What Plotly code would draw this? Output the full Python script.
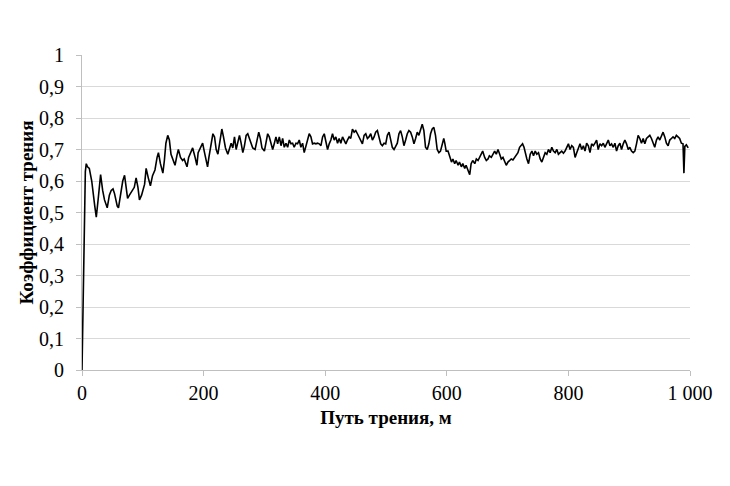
import plotly.graph_objects as go

# Friction path, m  /  friction coefficient
dist_a = [0, 1, 2.5, 4, 5.5, 7, 9, 12, 16, 21, 23.5, 27, 30.6, 34, 37, 41.5, 45, 48, 51, 53.5,
          58, 60, 63, 67, 70, 72.7, 75, 78, 82, 86, 89, 92, 94.5, 98, 103, 105.5, 109, 112.5,
          116, 120, 123.5, 125.7, 129, 133, 135.5, 138, 141, 143.7, 146.4, 149, 153, 156,
          158.5, 162, 165.5, 168, 172.7, 175.4, 179, 182, 186, 189, 191, 194.5, 198.4, 201, 204.3]
cof_a = [0, 0.13, 0.2, 0.45, 0.63, 0.655, 0.645, 0.64, 0.6, 0.52, 0.485, 0.55, 0.62, 0.57, 0.54,
         0.515, 0.555, 0.57, 0.575, 0.56, 0.52, 0.515, 0.55, 0.6, 0.618, 0.57, 0.545, 0.555, 0.57,
         0.58, 0.61, 0.58, 0.54, 0.555, 0.59, 0.64, 0.61, 0.585, 0.617, 0.635, 0.675, 0.69, 0.655,
         0.625, 0.665, 0.72, 0.745, 0.73, 0.685, 0.67, 0.65, 0.68, 0.7, 0.675, 0.665, 0.67, 0.645,
         0.675, 0.695, 0.705, 0.675, 0.65, 0.69, 0.705, 0.72, 0.695, 0.665]

dist_b = [206.5, 208.7, 211.4, 215.3, 218, 220.7, 223.5, 226, 230, 232.7, 236, 239.8, 242.6,
          245.3, 248, 250.8, 253.5, 256.2, 259, 261.7, 264.5, 267, 270, 272.6, 275.4, 278, 280.8,
          284.7, 287.4, 290.7, 293.4, 296, 300, 302.7, 305.4, 308, 310.9, 313.6, 316.4, 319, 321.8,
          324.5, 327.3, 330, 332.7, 335.5, 338.2, 341, 343.7, 346.4, 349, 351.9, 354.6, 357.3, 360,
          362.8, 365.5, 368.3, 371, 373.7, 376.5, 379.2, 382, 384.7, 387.4]
cof_b = [0.645, 0.675, 0.705, 0.75, 0.74, 0.70, 0.685, 0.72, 0.765, 0.74, 0.705, 0.685, 0.705,
         0.72, 0.705, 0.74, 0.70, 0.72, 0.745, 0.72, 0.69, 0.71, 0.745, 0.75, 0.735, 0.72, 0.705,
         0.70, 0.73, 0.755, 0.735, 0.705, 0.695, 0.72, 0.75, 0.74, 0.718, 0.70, 0.72, 0.74, 0.718,
         0.74, 0.712, 0.735, 0.707, 0.72, 0.707, 0.73, 0.718, 0.72, 0.707, 0.72, 0.718, 0.73, 0.707,
         0.72, 0.69, 0.712, 0.735, 0.75, 0.74, 0.718, 0.72, 0.718, 0.72]

dist_c = [390.2, 393, 395.7, 398.4, 401, 403.9, 406.6, 409.3, 412, 414.8, 417.5, 420.3, 423,
          425.7, 428.5, 431.2, 434, 436.6, 439.4, 442, 444.8, 447.6, 450.3, 453, 455.8, 458.5,
          461.2, 464, 466.7, 469.4, 472, 474.9, 477.6, 480.4, 483, 485.8, 488.6, 491.3, 494, 496.8,
          499.5, 502.2, 505, 507.7, 510.4, 513.2, 515.9, 518.6, 521.3, 524, 526.8, 529.5, 532.3,
          535, 537.7, 540.5, 543.2, 546, 548.7, 551.4, 554.1, 556.9, 559.6, 562.3, 565, 567.8,
          570.5, 573.3, 576, 578.7, 581.4, 584.2]
cof_c = [0.718, 0.712, 0.74, 0.75, 0.73, 0.70, 0.718, 0.73, 0.75, 0.73, 0.74, 0.72, 0.735, 0.72,
         0.74, 0.73, 0.718, 0.73, 0.74, 0.735, 0.765, 0.755, 0.76, 0.75, 0.74, 0.73, 0.718, 0.745,
         0.75, 0.735, 0.74, 0.75, 0.73, 0.74, 0.755, 0.76, 0.735, 0.718, 0.712, 0.72, 0.718, 0.745,
         0.755, 0.73, 0.707, 0.70, 0.712, 0.72, 0.75, 0.76, 0.74, 0.712, 0.73, 0.75, 0.76, 0.755,
         0.74, 0.718, 0.735, 0.755, 0.745, 0.765, 0.78, 0.76, 0.707, 0.70, 0.718, 0.75, 0.765,
         0.77, 0.745, 0.70]

dist_d = [587, 589.6, 592.4, 595, 596.7, 599, 602, 604.4, 607.7, 610, 613, 615.3, 618.6, 620.8,
          624, 626.3, 629.5, 631.7, 635, 637.7, 640, 642.6, 646, 648.6, 651.4, 654, 656.8, 659,
          662.3, 665, 667.8, 670, 673.2, 676, 678.7, 681.4, 684.2, 687, 689.6, 692.4, 695, 697.8,
          700.6, 703.3, 706, 708.8, 711.5, 714.2, 717, 719.7, 722.4, 724.6, 727, 729, 731.7, 734.4,
          737.2, 740, 742.6, 745.4, 748, 750.8, 753.6, 756.3, 759, 761.8, 764.5, 767.2, 770, 772.7,
          775.4, 778.2, 781]
cof_d = [0.69, 0.695, 0.718, 0.735, 0.72, 0.695, 0.695, 0.68, 0.66, 0.67, 0.655, 0.665, 0.65, 0.66,
         0.645, 0.655, 0.64, 0.65, 0.635, 0.62, 0.655, 0.665, 0.655, 0.67, 0.665, 0.675, 0.69,
         0.695, 0.675, 0.665, 0.67, 0.68, 0.675, 0.685, 0.695, 0.685, 0.70, 0.685, 0.67, 0.675,
         0.665, 0.65, 0.66, 0.665, 0.67, 0.667, 0.675, 0.685, 0.69, 0.707, 0.712, 0.718, 0.707,
         0.69, 0.67, 0.655, 0.685, 0.695, 0.68, 0.695, 0.685, 0.69, 0.67, 0.66, 0.675, 0.69, 0.685,
         0.70, 0.69, 0.707, 0.695, 0.69, 0.70]

dist_e = [783.6, 786.3, 789, 791.8, 794.5, 797.3, 800, 802.7, 805.5, 808.2, 811, 813.7, 816.4,
          819.1, 821.9, 824.6, 827.3, 830, 832.8, 835.5, 838.2, 841, 843.7, 846.4, 849, 851.9,
          854.6, 857.4, 860, 862.8, 865.6, 868.3, 871, 873.8, 876.5, 879.2, 882, 884.7, 887.4,
          890.2, 892.9, 895.6, 898.4, 901, 903.8, 906.6, 909.3, 912, 914.7, 917.5, 920.2, 923,
          925.7, 928.4, 931.1, 933.9, 936.6, 939.3, 942, 944.8, 947.5, 950.3, 953, 955.7, 958.5,
          961.2, 964, 966.7, 969.4, 972.1, 974.9, 977.6, 980.3, 983, 985.8, 988.5, 990, 991.5,
          994, 997]
cof_e = [0.685, 0.69, 0.695, 0.688, 0.695, 0.707, 0.718, 0.70, 0.712, 0.707, 0.675, 0.69, 0.707,
         0.718, 0.70, 0.712, 0.695, 0.72, 0.712, 0.69, 0.718, 0.712, 0.72, 0.73, 0.70, 0.718, 0.712,
         0.72, 0.707, 0.718, 0.73, 0.712, 0.718, 0.707, 0.72, 0.695, 0.712, 0.72, 0.70, 0.718, 0.73,
         0.718, 0.70, 0.707, 0.695, 0.69, 0.695, 0.718, 0.745, 0.735, 0.72, 0.735, 0.718, 0.735,
         0.74, 0.745, 0.735, 0.72, 0.707, 0.73, 0.74, 0.73, 0.745, 0.755, 0.74, 0.72, 0.712, 0.73,
         0.735, 0.74, 0.735, 0.745, 0.74, 0.735, 0.72, 0.718, 0.625, 0.71, 0.715, 0.705]

x_ticks = [0, 200, 400, 600, 800, 1000]
x_labels = ["0", "200", "400", "600", "800", "1 000"]
y_ticks = [0, 0.1, 0.2, 0.3, 0.4, 0.5, 0.6, 0.7, 0.8, 0.9, 1]
y_labels = ["0", "0,1", "0,2", "0,3", "0,4", "0,5", "0,6", "0,7", "0,8", "0,9", "1"]

x_title = "Путь трения, м"
y_title = "Коэффициент трения"

distance = dist_a + dist_b + dist_c + dist_d + dist_e
cof = cof_a + cof_b + cof_c + cof_d + cof_e

fig = go.Figure()
fig.add_trace(go.Scatter(x=distance, y=cof, mode="lines",
                         line=dict(color="black", width=1.6), showlegend=False))

serif = "Liberation Serif"
axis_col = "#bfbfbf"
tick_font = dict(family=serif, size=20, color="black")
title_font = dict(family=serif, size=19, color="black")
fig.update_layout(
    width=730, height=486,
    margin=dict(l=74, r=48, t=47, b=124, autoexpand=False),
    paper_bgcolor="white", plot_bgcolor="white",
    font=dict(family=serif, size=20, color="black"),
)
fig.update_xaxes(
    range=[0, 1000], tickvals=x_ticks, ticktext=x_labels,
    showgrid=False, zeroline=False, automargin=False,
    showline=True, linecolor=axis_col, linewidth=1,
    ticks="outside", ticklen=5, tickcolor=axis_col,
    tickfont=tick_font,
    title=dict(text="<b>" + x_title + "</b>", font=title_font, standoff=7),
)
fig.update_yaxes(
    range=[0, 1], tickvals=y_ticks, ticktext=y_labels,
    showgrid=True, gridcolor="#d9d9d9", gridwidth=1, zeroline=False, automargin=False,
    showline=True, linecolor=axis_col, linewidth=1,
    ticks="outside", ticklen=5, tickcolor=axis_col,
    tickfont=tick_font, ticklabelstandoff=8,
    title=dict(text="<b>" + y_title + "</b>", font=title_font, standoff=0),
)

fig.write_html("out.html")
